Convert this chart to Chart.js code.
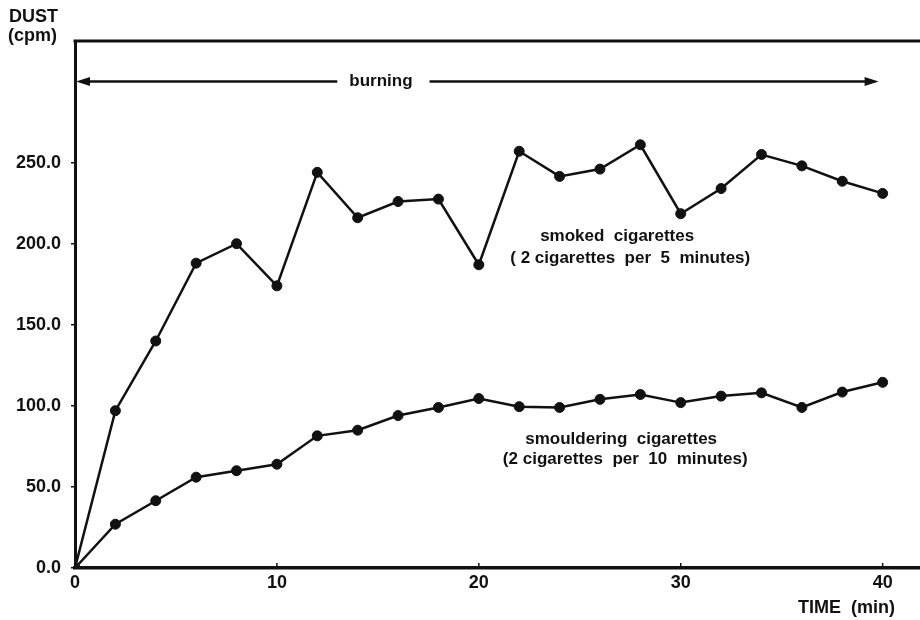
<!DOCTYPE html>
<html>
<head>
<meta charset="utf-8">
<script src="https://cdn.jsdelivr.net/npm/chart.js@4/dist/chart.umd.min.js"></script>
<style>
  html, body { margin: 0; padding: 0; background: #ffffff; }
  #wrap { width: 920px; height: 620px; position: relative; }
</style>
</head>
<body>
<div id="wrap"><canvas id="c" width="920" height="620"></canvas></div>
<script>
// Sampling times (minutes)
const times = [0, 2, 4, 6, 8, 10, 12, 14, 16, 18, 20, 22, 24, 26, 28, 30, 32, 34, 36, 38, 40];

// Dust readings (cpm)
const smoked = [0, 97, 140, 188, 200, 174, 244, 216, 226, 227.5, 187, 257, 241.5, 246, 261, 218.5, 234, 255, 248, 238.5, 231];
const smouldering = [0, 27, 41.5, 56, 60, 64, 81.5, 85, 94, 99, 104.5, 99.5, 99, 104, 107, 102, 106, 108, 99, 108.5, 114.5];

// Axis ticks
const xTicks = [0, 10, 20, 30, 40];
const yTicks = [0, 50, 100, 150, 200, 250];

// Annotation texts
const smokedLabel = ['smoked  cigarettes', '( 2 cigarettes  per  5  minutes)'];
const smoulderLabel = ['smouldering  cigarettes', '(2 cigarettes  per  10  minutes)'];
const burningLabel = 'burning';

const FONT = '"Liberation Sans", Arial, Helvetica, sans-serif';
const INK = '#111111';

function toPoints(vals) {
  return times.map((t, i) => ({ x: t, y: vals[i] }));
}

const annotate = {
  id: 'annotate',
  afterDraw(chart) {
    const ctx = chart.ctx;
    const xs = chart.scales.x, ys = chart.scales.y;
    const a = chart.chartArea;
    ctx.save();
    ctx.strokeStyle = INK;
    ctx.fillStyle = INK;

    // top frame line
    ctx.lineWidth = 3;
    ctx.beginPath();
    ctx.moveTo(a.left - 1.5, a.top);
    ctx.lineTo(a.right, a.top);
    ctx.stroke();

    // x tick marks, pointing up into the plot
    ctx.lineWidth = 1.5;
    xTicks.forEach(v => {
      const px = xs.getPixelForValue(v);
      ctx.beginPath();
      ctx.moveTo(px, a.bottom);
      ctx.lineTo(px, a.bottom - 5);
      ctx.stroke();
    });

    // burning period arrow
    const ay = ys.getPixelForValue(300);
    const x0 = xs.getPixelForValue(0) + 1;
    const x1 = xs.getPixelForValue(39.8);
    const tx = xs.getPixelForValue(15.15);
    ctx.font = 'bold 17px ' + FONT;
    ctx.textAlign = 'center';
    ctx.textBaseline = 'middle';
    const tw = ctx.measureText(burningLabel).width;
    ctx.fillText(burningLabel, tx, ay);
    ctx.lineWidth = 2.5;
    ctx.beginPath();
    ctx.moveTo(x0 + 10, ay);
    ctx.lineTo(tx - tw / 2 - 12, ay);
    ctx.moveTo(tx + tw / 2 + 17, ay);
    ctx.lineTo(x1 - 10, ay);
    ctx.stroke();
    ctx.beginPath();
    ctx.moveTo(x0, ay);
    ctx.lineTo(x0 + 14, ay - 4.5);
    ctx.lineTo(x0 + 14, ay + 4.5);
    ctx.closePath();
    ctx.fill();
    ctx.beginPath();
    ctx.moveTo(x1, ay);
    ctx.lineTo(x1 - 14, ay - 4.5);
    ctx.lineTo(x1 - 14, ay + 4.5);
    ctx.closePath();
    ctx.fill();

    // series labels
    ctx.font = 'bold 17px ' + FONT;
    ctx.fillText(smokedLabel[0], xs.getPixelForValue(26.85), ys.getPixelForValue(204.5));
    ctx.fillText(smokedLabel[1], xs.getPixelForValue(27.5), ys.getPixelForValue(191));
    ctx.fillText(smoulderLabel[0], xs.getPixelForValue(27.05), ys.getPixelForValue(79.5));
    ctx.fillText(smoulderLabel[1], xs.getPixelForValue(27.25), ys.getPixelForValue(67));

    // axis titles
    ctx.textAlign = 'left';
    ctx.font = 'bold 18px ' + FONT;
    ctx.fillText('DUST', 9, 17);
    ctx.fillText('(cpm)', 8, 36);
    ctx.fillText('TIME  (min)', 798, 608);
    ctx.restore();
  }
};

new Chart(document.getElementById('c'), {
  type: 'line',
  data: {
    datasets: [
      {
        label: 'smoked cigarettes',
        data: toPoints(smoked),
        borderColor: INK,
        backgroundColor: INK,
        borderWidth: 2.5,
        pointRadius: 5,
        pointBackgroundColor: INK,
        pointBorderColor: INK,
        pointBorderWidth: 1,
        tension: 0
      },
      {
        label: 'smouldering cigarettes',
        data: toPoints(smouldering),
        borderColor: INK,
        backgroundColor: INK,
        borderWidth: 2.5,
        pointRadius: 5,
        pointBackgroundColor: INK,
        pointBorderColor: INK,
        pointBorderWidth: 1,
        tension: 0
      }
    ]
  },
  options: {
    responsive: false,
    animation: false,
    devicePixelRatio: 1,
    layout: { autoPadding: false, padding: { top: 41, right: 0, bottom: 0, left: 0 } },
    plugins: { legend: { display: false }, tooltip: { enabled: false } },
    scales: {
      x: {
        type: 'linear',
        min: 0,
        max: 41.85,
        afterFit: s => { s.height = 52; },
        afterBuildTicks: s => { s.ticks = xTicks.map(v => ({ value: v })); },
        border: { display: true, color: INK, width: 3.5 },
        grid: { display: false },
        ticks: {
          color: INK,
          font: { family: FONT, size: 18, weight: 'bold' },
          padding: -4,
          maxRotation: 0,
          callback: v => String(v)
        }
      },
      y: {
        type: 'linear',
        min: 0,
        max: 325,
        afterFit: s => { s.width = 75; },
        afterBuildTicks: s => { s.ticks = yTicks.map(v => ({ value: v })); },
        border: { display: true, color: INK, width: 3 },
        grid: { display: true, drawOnChartArea: false, drawTicks: true, tickLength: 4, color: INK, lineWidth: 1.5 },
        ticks: {
          color: INK,
          font: { family: FONT, size: 18, weight: 'bold' },
          padding: 10,
          callback: v => v.toFixed(1)
        }
      }
    }
  },
  plugins: [annotate]
});
</script>
</body>
</html>
